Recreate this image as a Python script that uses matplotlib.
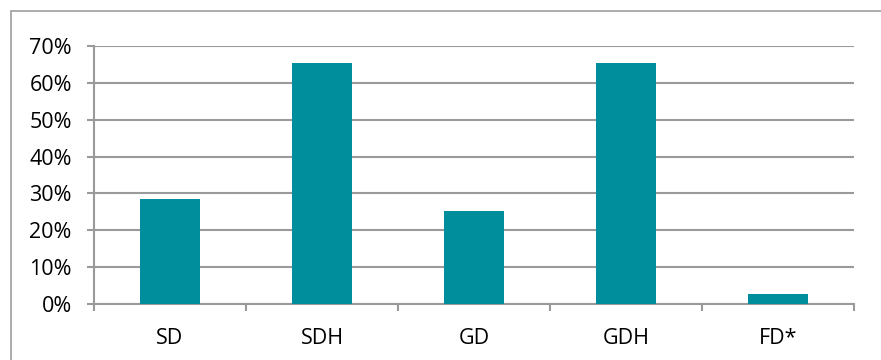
import matplotlib
matplotlib.use("Agg")
import matplotlib.pyplot as plt
from matplotlib.patches import Rectangle
from matplotlib.ticker import FuncFormatter, FixedLocator

categories = ["SD", "SDH", "GD", "GDH", "FD*"]
values = [28.6, 65.3, 25.2, 65.3, 2.6]
yticks = [0, 10, 20, 30, 40, 50, 60, 70]

BAR = "#008E9C"
GRID = "#9A9A9A"

plt.rcParams["font.family"] = ["Open Sans", "DejaVu Sans"]

fig = plt.figure(figsize=(8.81, 3.6), dpi=100)
W, H = 881, 360
# outer chart border (runs off the right/bottom of the image)
fig.patches.append(Rectangle((11 / W, -0.1), 1.0, 1.1 - 11 / H,
                             transform=fig.transFigure, fill=False,
                             edgecolor="#A6A6A6", lw=1.3))

ax = fig.add_axes([94 / W, (H - 304) / H, (854 - 94) / W, (304 - 46) / H])
x = range(len(categories))
ax.bar(x, values, width=0.395, color=BAR, zorder=3)

ax.set_xlim(-0.5, len(categories) - 0.5)
ax.set_ylim(0, 70)
ax.set_yticks(yticks)
ax.yaxis.set_major_formatter(FuncFormatter(lambda v, p: f"{v:.0f}%"))
ax.set_xticks(list(x))
ax.set_xticklabels(categories)
ax.xaxis.set_minor_locator(FixedLocator([i - 0.5 for i in range(len(categories) + 1)]))

ax.grid(axis="y", color=GRID, lw=1.5, zorder=0)
for s in ("top", "right"):
    ax.spines[s].set_visible(False)
for s in ("left", "bottom"):
    ax.spines[s].set_color(GRID)
    ax.spines[s].set_linewidth(1.5)

ax.tick_params(axis="y", length=5, width=1.5, color=GRID, labelsize=15.5, pad=11)
ax.tick_params(axis="x", which="major", length=0, labelsize=15.5, pad=17)
ax.tick_params(axis="x", which="minor", length=5, width=1.5, color=GRID)

fig.savefig("out.png", dpi=100)
